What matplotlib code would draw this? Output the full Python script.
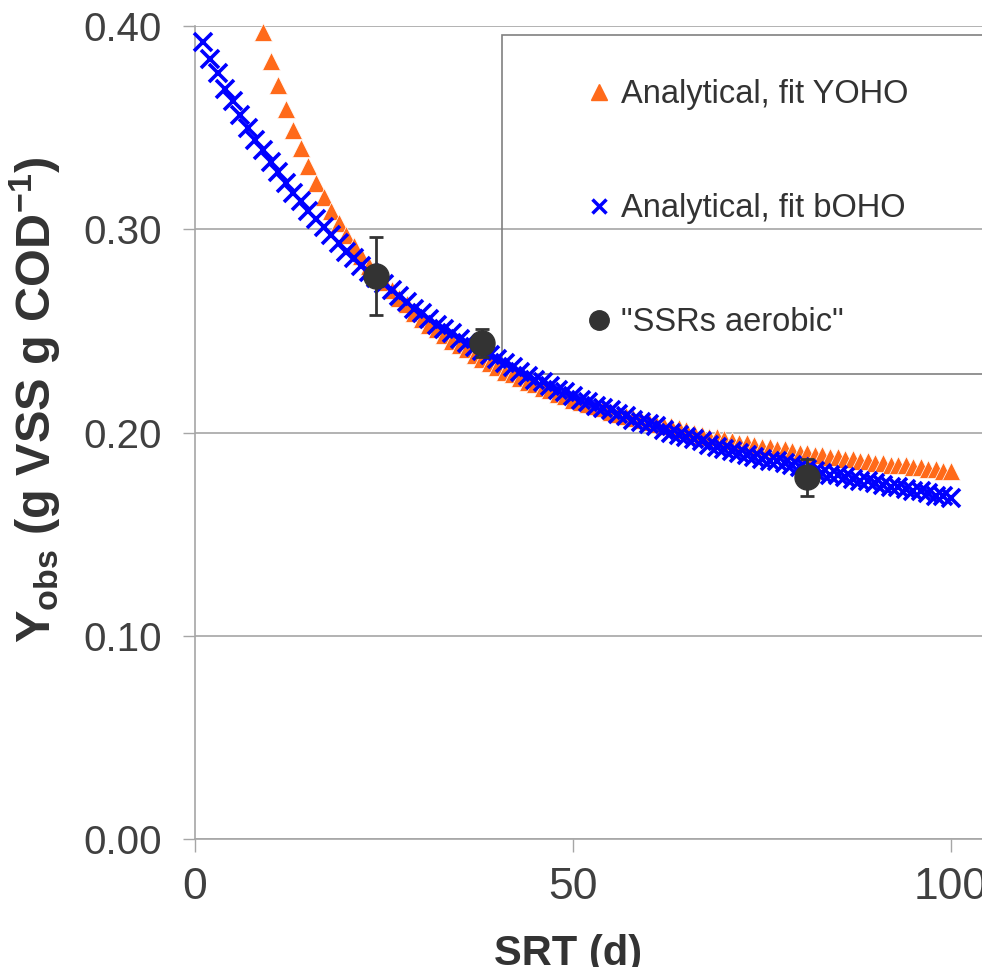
import numpy as np
import matplotlib
matplotlib.use("Agg")
from matplotlib import pyplot as plt
from matplotlib.lines import Line2D
from matplotlib.patches import Rectangle

plt.rcParams['font.family'] = ['Liberation Sans', 'DejaVu Sans']
plt.rcParams['mathtext.fontset'] = 'custom'
plt.rcParams['mathtext.rm'] = 'Liberation Sans'
plt.rcParams['mathtext.bf'] = 'Liberation Sans:bold'
plt.rcParams['mathtext.it'] = 'Liberation Sans:italic'

# analytical curve, fit bOHO (SRT = 1..100 d)
srt_boho = np.arange(1, 101)
yobs_boho = [
    0.392, 0.384, 0.377, 0.369, 0.363, 0.356, 0.350, 0.344, 0.339, 0.333,
    0.328, 0.323, 0.318, 0.314, 0.309, 0.305, 0.301, 0.297, 0.293, 0.289,
    0.286, 0.282, 0.279, 0.276, 0.273, 0.270, 0.267, 0.264, 0.261, 0.259,
    0.256, 0.253, 0.251, 0.249, 0.246, 0.244, 0.242, 0.240, 0.238, 0.236,
    0.234, 0.232, 0.230, 0.228, 0.226, 0.225, 0.223, 0.221, 0.220, 0.218,
    0.216, 0.215, 0.213, 0.212, 0.211, 0.209, 0.208, 0.206, 0.205, 0.204,
    0.203, 0.201, 0.200, 0.199, 0.198, 0.197, 0.196, 0.194, 0.193, 0.192,
    0.191, 0.190, 0.189, 0.188, 0.187, 0.186, 0.186, 0.185, 0.184, 0.183,
    0.182, 0.181, 0.180, 0.179, 0.179, 0.178, 0.177, 0.176, 0.176, 0.175,
    0.174, 0.173, 0.173, 0.172, 0.171, 0.171, 0.170, 0.169, 0.169, 0.168,
]

# analytical curve, fit YOHO (SRT = 9..100 d)
srt_yoho = np.arange(9, 101)
yobs_yoho = [
    0.397, 0.383, 0.371, 0.359, 0.349, 0.340, 0.331, 0.323, 0.316, 0.309,
    0.303, 0.297, 0.292, 0.287, 0.282, 0.278, 0.274, 0.270, 0.266, 0.263,
    0.259, 0.256, 0.253, 0.251, 0.248, 0.245, 0.243, 0.241, 0.238, 0.236,
    0.234, 0.232, 0.230, 0.229, 0.227, 0.225, 0.224, 0.222, 0.221, 0.219,
    0.218, 0.216, 0.215, 0.214, 0.213, 0.212, 0.210, 0.209, 0.208, 0.207,
    0.206, 0.205, 0.204, 0.203, 0.203, 0.202, 0.201, 0.200, 0.199, 0.198,
    0.198, 0.197, 0.196, 0.195, 0.195, 0.194, 0.193, 0.193, 0.192, 0.192,
    0.191, 0.190, 0.190, 0.189, 0.189, 0.188, 0.188, 0.187, 0.187, 0.186,
    0.186, 0.185, 0.185, 0.184, 0.184, 0.184, 0.183, 0.183, 0.182, 0.182,
    0.181, 0.181,
]

# measured "SSRs aerobic"
srt_meas = [24, 38, 81]
yobs_meas = [0.277, 0.244, 0.178]
yobs_err = [0.019, 0.007, 0.009]

yticks = [0.0, 0.1, 0.2, 0.3, 0.4]
ytick_labels = ['0.00', '0.10', '0.20', '0.30', '0.40']
xticks = [0, 50, 100]

orange = '#FF6A1A'
blue = '#0000FF'
dark = '#333333'
gray = '#A6A6A6'
txt = '#404040'

fig = plt.figure(figsize=(9.82, 9.67), dpi=100)
ax = fig.add_axes([195/982, 128/967, (982-195)/982, (839-26)/967])

ax.plot(srt_yoho, yobs_yoho, linestyle='none', marker='^', ms=13,
        color=orange, mec='white', mew=0.5, zorder=3, clip_on=False)
ax.plot(srt_boho, yobs_boho, linestyle='none', marker='x', ms=13,
        color=blue, mew=2.6, zorder=4, clip_on=False)
ax.errorbar(srt_meas, yobs_meas, yerr=yobs_err, fmt='o', ms=18, color=dark,
            ecolor=dark, elinewidth=2, capsize=5, capthick=2, zorder=5)

ax.set_xlim(0, 104.1)
ax.set_ylim(0, 0.40)
ax.set_yticks(yticks)
ax.set_yticklabels(ytick_labels)
ax.set_xticks(xticks)

ax.yaxis.grid(True, color=gray, lw=1.2)
ax.set_axisbelow(True)
for s in ['top', 'right']:
    ax.spines[s].set_visible(False)
for s in ['left', 'bottom']:
    ax.spines[s].set_color(gray)
    ax.spines[s].set_linewidth(1.2)
ax.tick_params(axis='y', length=9, width=1, color=gray, pad=15,
               labelsize=29, labelcolor=txt)
ax.tick_params(axis='x', length=9, width=1, color=gray, pad=11,
               labelsize=32, labelcolor=txt)

fig.text(0.036, 1-400/967, r'Y$_{\mathbf{obs}}$ (g VSS g COD$^{\mathbf{-1}}$)',
         rotation=90, ha='center', va='center', fontsize=35,
         fontweight='bold', color=dark)
fig.text(568/982, 0.002, 'SRT (d)', ha='center', va='baseline',
         fontsize=30, fontweight='bold', color=dark)

# legend box (runs off the right edge like the original)
box = Rectangle((502/982, 1-374/967), 0.6, (374-35)/967,
                transform=fig.transFigure, fill=False, edgecolor='#808080',
                lw=1.2, zorder=1, clip_on=False)
ax.add_patch(box)

handles = [
    Line2D([], [], linestyle='none', marker='^', ms=12, color=orange),
    Line2D([], [], linestyle='none', marker='x', ms=10, mew=2.5, color=blue),
    Line2D([], [], linestyle='none', marker='o', ms=14, color=dark),
]
labels = ['Analytical, fit YOHO', 'Analytical, fit bOHO', '"SSRs aerobic"']
leg = ax.legend(handles, labels, loc='upper left',
                bbox_to_anchor=(588/982, 1-79/967),
                bbox_transform=fig.transFigure, frameon=False, fontsize=23.5,
                handlelength=0.7, handletextpad=0.3, labelspacing=2.55,
                borderpad=0, borderaxespad=0, labelcolor=dark)

fig.savefig('out.png', dpi=100)
